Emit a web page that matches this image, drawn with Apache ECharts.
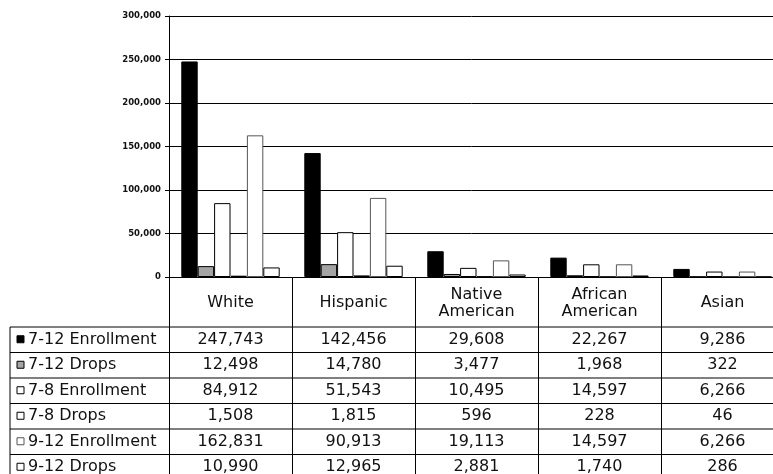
<!DOCTYPE html>
<html>
<head>
<meta charset="utf-8">
<script src="https://cdn.jsdelivr.net/npm/echarts@6/dist/echarts.min.js"></script>
<style>
html, body { margin: 0; padding: 0; background: #fff; }
#chart { width: 773px; height: 474px; }
</style>
</head>
<body>
<div id="chart"></div>
<script>
// data
const categories = ['White', 'Hispanic', 'Native\nAmerican', 'African\nAmerican', 'Asian']
const seriesNames = ['7-12 Enrollment', '7-12 Drops', '7-8 Enrollment', '7-8 Drops', '9-12 Enrollment', '9-12 Drops']
const enroll712 = [247743, 142456, 29608, 22267, 9286]
const drops712 = [12498, 14780, 3477, 1968, 322]
const enroll78 = [84912, 51543, 10495, 14597, 6266]
const drops78 = [1508, 1815, 596, 228, 46]
const enroll912 = [162831, 90913, 19113, 14597, 6266]
const drops912 = [10990, 12965, 2881, 1740, 286]
const yMin = 0
const yMax = 300000
const yStep = 50000

const seriesData = [enroll712, drops712, enroll78, drops78, enroll912, drops912]

// looks
const barStyles = [
  { color: '#000', borderColor: '#000' },
  { color: '#a4a4a4', borderColor: '#000' },
  { color: '#fff', borderColor: '#000' },
  { color: '#fff', borderColor: '#000' },
  { color: '#fff', borderColor: '#555' },
  { color: '#fff', borderColor: '#000' },
]
const FONT = 'DejaVu Sans'
const GRID_LEFT = 169
const GRID_TOP = 16
const AXIS_Y = 277
const TABLE_LEFT = 10
const HEADER_BOTTOM = 327
const ROW_H = 25.5

const fmt = (v) => v.toLocaleString('en-US')

const chart = echarts.init(document.getElementById('chart'))

chart.setOption({
  animation: false,
  grid: {
    left: GRID_LEFT,
    top: GRID_TOP,
    right: -11,
    bottom: 474 - AXIS_Y,
    outerBoundsMode: 'none',
  },
  xAxis: {
    type: 'category',
    data: categories,
    axisLine: { show: true, lineStyle: { color: '#000', width: 1 } },
    axisTick: { show: true, interval: 0, length: 474 - AXIS_Y, lineStyle: { color: '#000', width: 1 } },
    axisLabel: {
      interval: 0,
      margin: 26,
      verticalAlign: 'middle',
      lineHeight: 17,
      color: '#111',
      fontFamily: FONT,
      fontSize: 16,
    },
  },
  yAxis: {
    type: 'value',
    min: yMin,
    max: yMax,
    interval: yStep,
    axisLine: { show: true, lineStyle: { color: '#000', width: 1 } },
    axisTick: { show: true, length: 4, lineStyle: { color: '#000' } },
    splitLine: { lineStyle: { color: '#000', width: 1 } },
    axisLabel: {
      margin: 8,
      formatter: (v) => fmt(v),
      color: '#111',
      fontFamily: FONT,
      fontWeight: 'bold',
      fontSize: 8.5,
    },
  },
  series: seriesNames.map((name, i) => ({
    name,
    type: 'bar',
    data: seriesData[i],
    barGap: '0%',
    barCategoryGap: '20%',
    itemStyle: { color: barStyles[i].color, borderColor: barStyles[i].borderColor, borderWidth: 1 },
  })),
})

// data table under the axis
const drawTable = () => {
  const gridRight = chart.getWidth() + 11
  const xs = categories.map((c, i) => chart.convertToPixel({ xAxisIndex: 0 }, i))
  const els = []
  const line = (x1, y1, x2, y2) =>
    els.push({ type: 'line', shape: { x1, y1, x2, y2 }, style: { stroke: '#000', lineWidth: 1 }, silent: true })

  line(TABLE_LEFT, HEADER_BOTTOM, TABLE_LEFT, chart.getHeight())
  seriesNames.forEach((name, r) => {
    const top = HEADER_BOTTOM + r * ROW_H
    const mid = top + ROW_H / 2
    line(TABLE_LEFT, top, gridRight, top)
    els.push({
      type: 'rect',
      shape: { x: 17, y: mid - 4, width: 7, height: 7 },
      style: { fill: barStyles[r].color, stroke: barStyles[r].borderColor, lineWidth: 1 },
      silent: true,
    })
    els.push({
      type: 'text',
      x: 28,
      y: mid,
      style: { text: name, fontFamily: FONT, fontSize: 16, fill: '#111', align: 'left', verticalAlign: 'middle' },
      silent: true,
    })
    seriesData[r].forEach((v, c) => {
      els.push({
        type: 'text',
        x: xs[c],
        y: mid,
        style: { text: fmt(v), fontFamily: FONT, fontSize: 16, fill: '#111', align: 'center', verticalAlign: 'middle' },
        silent: true,
      })
    })
  })
  chart.setOption({ graphic: { elements: els } })
}
drawTable()
</script>
</body>
</html>
